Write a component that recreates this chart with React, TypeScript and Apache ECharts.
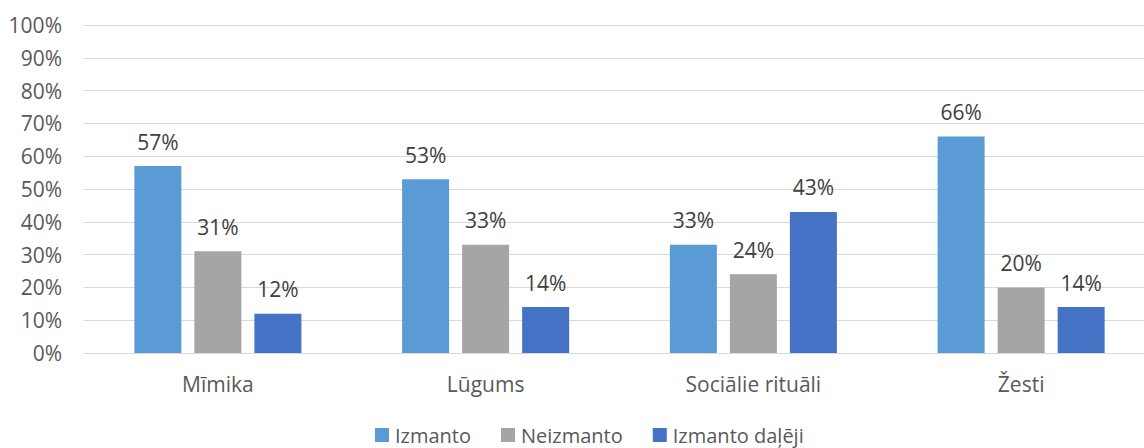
import React, { useEffect, useRef } from "react";
import * as echarts from "echarts";

const categories = ["Mīmika", "Lūgums", "Sociālie rituāli", "Žesti"];
const izmanto = [57, 53, 33, 66];
const neizmanto = [31, 33, 24, 20];
const dalej = [12, 14, 43, 14];
const seriesNames = ["Izmanto", "Neizmanto", "Izmanto daļēji"];
const colors = ["#5B9BD5", "#A5A5A5", "#4472C4"];

const FONT = "'Open Sans', sans-serif";
const TEXT = "#595959";
const FS = 21;

export default function App() {
  const ref = useRef<HTMLDivElement>(null);
  useEffect(() => {
    if (!ref.current) return;
    const chart = echarts.init(ref.current, undefined, { renderer: "svg" });
    const mk = (name: string, data: number[], color: string) => ({
      name,
      type: "bar",
      data,
      barWidth: 47,
      barGap: "27.7%",
      itemStyle: { color },
      label: {
        show: true,
        position: "top",
        distance: 14,
        formatter: "{c}%",
        color: "#404040",
        fontFamily: FONT,
        fontSize: FS,
      },
    });
    chart.setOption({
      animation: false,
      textStyle: { fontFamily: FONT },
      grid: { left: 84, right: 5, top: 25, bottom: 95, containLabel: false },
      legend: {
        data: seriesNames,
        left: 375,
        top: 425,
        padding: 0,
        itemWidth: 14,
        itemHeight: 14,
        itemGap: 30,
        icon: "rect",
        textStyle: { color: TEXT, fontFamily: FONT, fontSize: 20, lineHeight: 18, padding: [0, 0, 0, 1] },
      },
      xAxis: {
        type: "category",
        data: categories,
        axisLine: { show: true, lineStyle: { color: "#D9D9D9", width: 1 } },
        axisTick: { show: false },
        axisLabel: { color: TEXT, fontFamily: FONT, fontSize: FS, margin: 20 },
      },
      yAxis: {
        type: "value",
        min: 0,
        max: 100,
        interval: 10,
        axisLine: { show: false },
        axisTick: { show: false },
        splitLine: { lineStyle: { color: "#D9D9D9", width: 1 } },
        axisLabel: {
          formatter: "{value}%",
          color: TEXT,
          fontFamily: FONT,
          fontSize: FS,
          margin: 22,
        },
      },
      series: [
        mk(seriesNames[0], izmanto, colors[0]),
        mk(seriesNames[1], neizmanto, colors[1]),
        mk(seriesNames[2], dalej, colors[2]),
      ],
    });
    return () => chart.dispose();
  }, []);
  return (
    <div
      style={{ position: "absolute", left: 0, top: 0, width: 1144, height: 448, overflow: "hidden", background: "#fff" }}
    >
      <div ref={ref} style={{ width: 1160, height: 448 }} />
    </div>
  );
}
